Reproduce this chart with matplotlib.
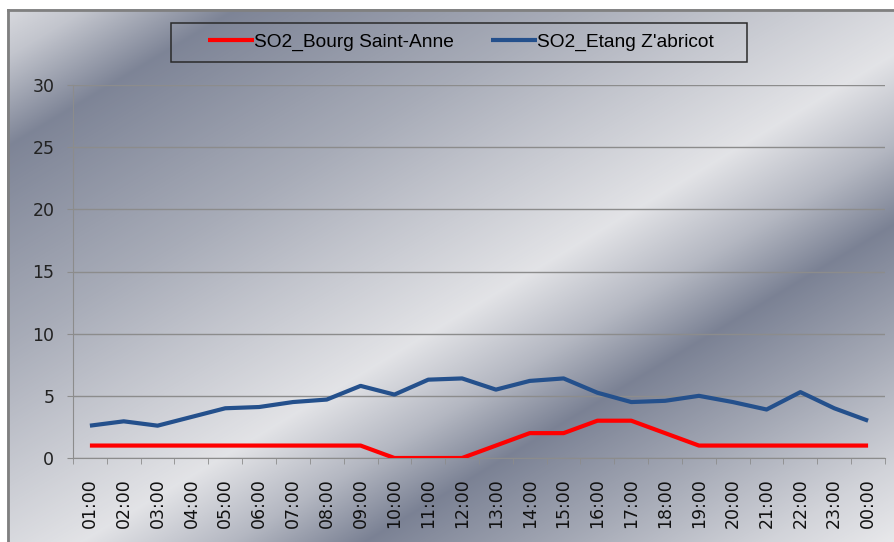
import numpy as np
import matplotlib
matplotlib.use("Agg")
import matplotlib.pyplot as plt
from matplotlib.colors import LinearSegmentedColormap
from matplotlib.patches import Rectangle
from matplotlib import font_manager

hours = ["01:00", "02:00", "03:00", "04:00", "05:00", "06:00", "07:00", "08:00",
         "09:00", "10:00", "11:00", "12:00", "13:00", "14:00", "15:00", "16:00",
         "17:00", "18:00", "19:00", "20:00", "21:00", "22:00", "23:00", "00:00"]
bourg = [1, 1, 1, 1, 1, 1, 1, 1, 1, 0, 0, 0, 1, 2, 2, 3, 3, 2, 1, 1, 1, 1, 1, 1]
etang = [2.6, 2.95, 2.6, 3.3, 4.0, 4.1, 4.5, 4.7, 5.8, 5.1, 6.3, 6.4,
         5.5, 6.2, 6.4, 5.25, 4.5, 4.6, 5.0, 4.5, 3.9, 5.3, 4.0, 3.0]
yticks = [0, 5, 10, 15, 20, 25, 30]

names = {f.name for f in font_manager.fontManager.ttflist}
legend_font = "Liberation Sans Narrow" if "Liberation Sans Narrow" in names else "Liberation Sans"

W, H = 894, 542
fig = plt.figure(figsize=(W / 100, H / 100), dpi=100)

# background gradient (diagonal bands)
bg = fig.add_axes([0, 0, 1, 1])
yy, xx = np.mgrid[0:H, 0:W]
t = 0.6 * xx + yy
stops = [(0, 228), (60, 200), (150, 128), (250, 150), (350, 172), (450, 198),
         (590, 233), (680, 185), (760, 125), (880, 168), (1000, 215), (1090, 243)]
ts = np.array([s[0] for s in stops], float)
vs = np.array([s[1] for s in stops], float)
val = np.interp(t, ts, vs)
cmap = LinearSegmentedColormap.from_list("bg", [(120/255, 127/255, 146/255), (236/255, 236/255, 238/255)])
img = cmap((val - 122) / (243 - 122))
img[:9, :, :3] = 1.0
img[:, :7, :3] = 1.0
bg.imshow(img, extent=[0, W, H, 0], aspect="auto", interpolation="bilinear")
bg.plot([7.5, W], [9.5, 9.5], color="#808080", lw=2)
bg.plot([7.5, 7.5], [9.5, H], color="#808080", lw=2)
bg.add_patch(Rectangle((171, 22.5), 747 - 171, 62 - 22.5, facecolor="none",
                       edgecolor="#2a2a2a", lw=1.1, zorder=5))
bg.set_xlim(0, W)
bg.set_ylim(H, 0)
bg.axis("off")

ax = fig.add_axes([73 / W, 1 - 458 / H, (885 - 73) / W, (458 - 85) / H])
ax.patch.set_alpha(0)
x = np.arange(len(hours))
ax.plot(x, bourg, color="#ff0000", lw=3.0, solid_capstyle="butt", label="SO2_Bourg Saint-Anne", zorder=3)
ax.plot(x, etang, color="#24508c", lw=3.0, solid_capstyle="butt", label="SO2_Etang Z'abricot", zorder=4)
ax.set_xlim(-0.5, len(hours) - 0.5)
ax.set_ylim(0, 30)
ax.set_yticks(yticks)
ax.set_yticklabels([str(v) for v in yticks], fontsize=12.5, family="DejaVu Sans", color="#222222")
ax.yaxis.grid(True, color="#8c8c8c", lw=1)
ax.set_axisbelow(True)
ax.set_xticks(x)
ax.set_xticklabels(hours, rotation=90, fontsize=12.5, family="DejaVu Sans", color="#111111")
ax.set_xticks(np.arange(-0.5, len(hours)), minor=True)
ax.tick_params(axis="x", which="major", length=0, pad=14.4)
ax.tick_params(axis="x", which="minor", length=4.5, color="#8c8c8c", direction="out")
ax.tick_params(axis="y", length=4.5, color="#8c8c8c", direction="out", pad=9)
for s in ["top", "right"]:
    ax.spines[s].set_visible(False)
ax.spines["left"].set_color("#8c8c8c")
ax.spines["bottom"].set_color("#8c8c8c")

cx = (171 + 747) / 2 / W + 2 / W
cy = 1 - (22.5 + 62) / 2 / H
leg = fig.legend(loc="center", bbox_to_anchor=(cx, cy), ncol=2, frameon=False,
                 prop={"family": legend_font, "size": 13.8}, handlelength=2.4,
                 columnspacing=1.9, handletextpad=0.0, borderpad=0.0)

fig.savefig("out.png", dpi=100)
